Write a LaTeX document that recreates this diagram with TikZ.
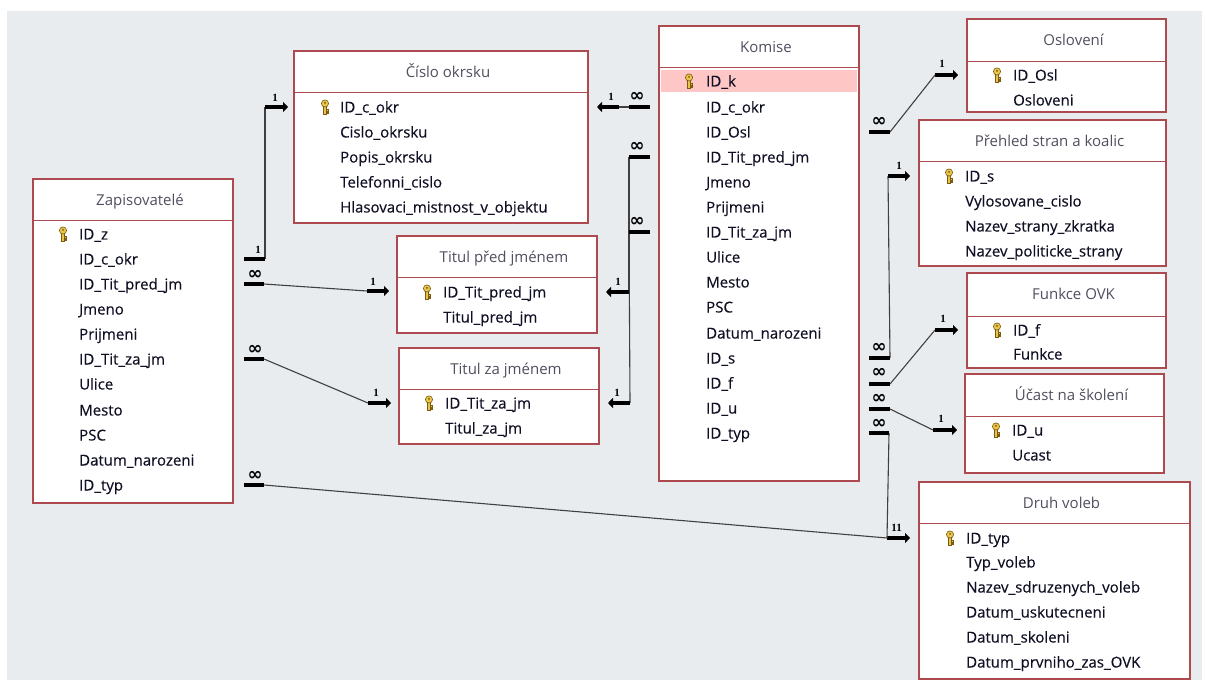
\documentclass[tikz,border=0pt]{standalone}
\usepackage{fontspec}
\setmainfont{Open Sans}
\newfontfamily\fldfont{Open Sans}[BoldFont={Open Sans},BoldFeatures={FakeBold=0.35}]
\newfontfamily\relfont{Liberation Serif}
\newfontfamily\symfont{DejaVu Sans}
\usetikzlibrary{arrows.meta}
\definecolor{bgc}{HTML}{E9ECEF}
\definecolor{boxred}{HTML}{AD4A50}
\definecolor{titc}{HTML}{505060}
\definecolor{fldc}{HTML}{101024}
\definecolor{hilite}{HTML}{FFC6C6}
\definecolor{keygold}{HTML}{E8C44A}
\definecolor{keydark}{HTML}{7A5A10}
\definecolor{linec}{HTML}{404040}
\tikzset{
 tbox/.style={draw=boxred, fill=white, line width=1.3pt, anchor=north west, inner sep=0pt, outer sep=0pt},
 hdr/.style={draw=boxred, line width=1pt},
 ttl/.style={font=\fontsize{15}{17}\selectfont, text=titc, inner sep=0pt, anchor=base},
 fld/.style={font=\fldfont\bfseries\fontsize{15}{17}\selectfont, text=fldc, anchor=base west, inner sep=0pt},
 relbar/.style={line width=3.5pt, black},
 rel/.style={line width=1.1pt, linec},
 relarr/.style={line width=3.5pt, black, -{Triangle[length=5pt,width=10pt]}},
 one/.style={font=\relfont\bfseries\fontsize{11}{11}\selectfont, inner sep=0pt},
 many/.style={font=\symfont\bfseries\fontsize{18}{18}\selectfont, inner sep=0pt},
 keyico/.pic={
   \fill[keygold, draw=keydark, line width=0.6pt] (-1.5,-1) rectangle (1.5,7);
   \fill[keygold, draw=keydark, line width=0.5pt] (1.5,2.6) rectangle (3.6,4);
   \fill[keygold, draw=keydark, line width=0.5pt] (1.5,5.1) rectangle (3.6,6.6);
   \fill[keygold, draw=keydark, line width=0.6pt] (0,-3.5) circle (3.6);
   \fill[keydark] (0,-4.2) circle (1);
 }
}
% #1 name, #2 x1, #3 y1, #4 x2, #5 y2, #6 header line y, #7 title
\newcommand\erbox[7]{%
  \node[tbox, minimum width={#4-#2}, minimum height={#5-#3}] (#1) at (#2,#3) {};
  \draw[hdr] (#2,#6) -- (#4,#6);
  \node[ttl] (#1-t) at ({(#2+#4)/2+7},{(#3+#6)/2+5.5}) {#7};
}
\begin{document}
\begin{tikzpicture}[x=1pt,y=-1pt]
\useasboundingbox (0,0) rectangle (1206,684);
\fill[white] (0,0) rectangle (1206,684);
\fill[bgc] (7,11) rectangle (1202,680);

% ---------- tables ----------
\erbox{zap}{33}{179}{233}{503}{221}{Zapisovatelé}
\erbox{okr}{294}{51}{588}{223}{93}{Číslo okrsku}
\erbox{tpred}{397}{236}{597}{333}{278}{Titul před jménem}
\erbox{tza}{399}{348}{599}{444}{389}{Titul za jménem}
\erbox{kom}{659}{26}{859}{481}{68}{Komise}
\erbox{osl}{967}{19}{1166}{112}{62}{Oslovení}
\erbox{preh}{919}{120}{1166}{266}{162}{Přehled stran a koalic}
\erbox{fun}{967}{273}{1166}{368}{316}{Funkce OVK}
\erbox{uc}{965}{374}{1164}{473}{416}{Účast na školení}
\erbox{druh}{919}{482}{1190}{679}{523}{Druh voleb}

\fill[hilite] (661,70) rectangle (857,92);

% Zapisovatele
\pic at (63,234) {keyico};
\node[fld] (zap1) at (79,239.5) {ID\_z};
\node[fld] (zap2) at (79,264.5) {ID\_c\_okr};
\node[fld] (zap3) at (79,289.5) {ID\_Tit\_pred\_jm};
\node[fld] (zap4) at (79,314.5) {Jmeno};
\node[fld] (zap5) at (79,339.5) {Prijmeni};
\node[fld] (zap6) at (79,364.5) {ID\_Tit\_za\_jm};
\node[fld] (zap7) at (79,389.5) {Ulice};
\node[fld] (zap8) at (79,415.5) {Mesto};
\node[fld] (zap9) at (79,440.5) {PSC};
\node[fld] (zap10) at (79,465.5) {Datum\_narozeni};
\node[fld] (zap11) at (79,490.5) {ID\_typ};

% Cislo okrsku
\pic at (325,107) {keyico};
\node[fld] (okr1) at (340,112.5) {ID\_c\_okr};
\node[fld] (okr2) at (340,137.5) {Cislo\_okrsku};
\node[fld] (okr3) at (340,162.5) {Popis\_okrsku};
\node[fld] (okr4) at (340,187.5) {Telefonni\_cislo};
\node[fld] (okr5) at (340,212.5) {Hlasovaci\_mistnost\_v\_objektu};

% Titul pred jmenem
\pic at (427,292) {keyico};
\node[fld] (tpred1) at (443,297.5) {ID\_Tit\_pred\_jm};
\node[fld] (tpred2) at (443,322.5) {Titul\_pred\_jm};

% Titul za jmenem
\pic at (429,403) {keyico};
\node[fld] (tza1) at (445,408.5) {ID\_Tit\_za\_jm};
\node[fld] (tza2) at (445,433.5) {Titul\_za\_jm};

% Komise
\pic at (689,81) {keyico};
\node[fld] (kom1) at (706,86.5) {ID\_k};
\node[fld] (kom2) at (706,112.5) {ID\_c\_okr};
\node[fld] (kom3) at (706,137.5) {ID\_Osl};
\node[fld] (kom4) at (706,162.5) {ID\_Tit\_pred\_jm};
\node[fld] (kom5) at (706,187.5) {Jmeno};
\node[fld] (kom6) at (706,212.5) {Prijmeni};
\node[fld] (kom7) at (706,237.5) {ID\_Tit\_za\_jm};
\node[fld] (kom8) at (706,262.5) {Ulice};
\node[fld] (kom9) at (706,287.5) {Mesto};
\node[fld] (kom10) at (706,312.5) {PSC};
\node[fld] (kom11) at (706,338.5) {Datum\_narozeni};
\node[fld] (kom12) at (706,363.5) {ID\_s};
\node[fld] (kom13) at (706,388.5) {ID\_f};
\node[fld] (kom14) at (706,413.5) {ID\_u};
\node[fld] (kom15) at (706,438.5) {ID\_typ};

% Osloveni
\pic at (997,75) {keyico};
\node[fld] (osl1) at (1013,80.5) {ID\_Osl};
\node[fld] (osl2) at (1013,105.5) {Osloveni};

% Prehled stran
\pic at (949,176) {keyico};
\node[fld] (preh1) at (965,181.5) {ID\_s};
\node[fld] (preh2) at (965,206.5) {Vylosovane\_cislo};
\node[fld] (preh3) at (965,231.5) {Nazev\_strany\_zkratka};
\node[fld] (preh4) at (965,256.5) {Nazev\_politicke\_strany};

% Funkce OVK
\pic at (997,330) {keyico};
\node[fld] (fun1) at (1013,335.5) {ID\_f};
\node[fld] (fun2) at (1013,359.5) {Funkce};

% Ucast na skoleni
\pic at (996,430) {keyico};
\node[fld] (uc1) at (1012,435.5) {ID\_u};
\node[fld] (uc2) at (1012,460.5) {Ucast};

% Druh voleb
\pic at (950,538) {keyico};
\node[fld] (druh1) at (966,543.5) {ID\_typ};
\node[fld] (druh2) at (966,567.5) {Typ\_voleb};
\node[fld] (druh3) at (966,592.5) {Nazev\_sdruzenych\_voleb};
\node[fld] (druh4) at (966,617.5) {Datum\_uskutecneni};
\node[fld] (druh5) at (966,642.5) {Datum\_skoleni};
\node[fld] (druh6) at (966,667.5) {Datum\_prvniho\_zas\_OVK};

% ---------- connector points ----------
\coordinate (a1) at (244,259); \coordinate (a2) at (265,259);
\coordinate (a3) at (265,107); \coordinate (a4) at (288,107);
\coordinate (b1) at (244,284); \coordinate (b2) at (264,284);
\coordinate (b3) at (367,291); \coordinate (b4) at (389,291);
\coordinate (c1) at (244,359); \coordinate (c2) at (264,359);
\coordinate (c3) at (368,403); \coordinate (c4) at (391,403);
\coordinate (d1) at (244,485); \coordinate (d2) at (264,485);
\coordinate (d3) at (887,538); \coordinate (d4) at (910,538);
\coordinate (e1) at (650,107); \coordinate (e2) at (629,107);
\coordinate (e3) at (619,107); \coordinate (e4) at (597,107);
\coordinate (f1) at (650,157); \coordinate (f2) at (629,157);
\coordinate (f3) at (629,292); \coordinate (f4) at (606,292);
\coordinate (g1) at (650,232); \coordinate (g2) at (629,232);
\coordinate (g3) at (630,403); \coordinate (g4) at (608,403);
\coordinate (h1) at (869,132); \coordinate (h2) at (890,132);
\coordinate (h3) at (935,75);  \coordinate (h4) at (958,75);
\coordinate (i1) at (869,358); \coordinate (i2) at (890,358);
\coordinate (i3) at (888,176); \coordinate (i4) at (910,176);
\coordinate (j1) at (869,384); \coordinate (j2) at (890,384);
\coordinate (j3) at (935,330); \coordinate (j4) at (958,330);
\coordinate (k1) at (869,409); \coordinate (k2) at (890,409);
\coordinate (k3) at (933,430); \coordinate (k4) at (957,430);
\coordinate (l1) at (869,433); \coordinate (l2) at (889,433);
\coordinate (l3) at (887,538);

% ---------- connectors ----------
\draw[rel] (a2) -- (a3); \draw[relbar] (a1) -- (a2); \draw[relarr] (a3) -- (a4);
\draw[rel] (b2) -- (b3); \draw[relbar] (b1) -- (b2); \draw[relarr] (b3) -- (b4);
\draw[rel] (c2) -- (c3); \draw[relbar] (c1) -- (c2); \draw[relarr] (c3) -- (c4);
\draw[rel] (d2) -- (d3); \draw[relbar] (d1) -- (d2); \draw[relarr] (d3) -- (d4);
\draw[rel] (e2) -- (e3); \draw[relbar] (e1) -- (e2); \draw[relarr] (e3) -- (e4);
\draw[rel] (f2) -- (f3); \draw[relbar] (f1) -- (f2); \draw[relarr] (f3) -- (f4);
\draw[rel] (g2) -- (g3); \draw[relbar] (g1) -- (g2); \draw[relarr] (g3) -- (g4);
\draw[rel] (h2) -- (h3); \draw[relbar] (h1) -- (h2); \draw[relarr] (h3) -- (h4);
\draw[rel] (i2) -- (i3); \draw[relbar] (i1) -- (i2); \draw[relarr] (i3) -- (i4);
\draw[rel] (j2) -- (j3); \draw[relbar] (j1) -- (j2); \draw[relarr] (j3) -- (j4);
\draw[rel] (k2) -- (k3); \draw[relbar] (k1) -- (k2); \draw[relarr] (k3) -- (k4);
\draw[rel] (l2) -- (l3); \draw[relbar] (l1) -- (l2);

% ---------- cardinality labels ----------
\node[one] (la1) at (258,250) {1};
\node[one] (la2) at (275,98) {1};
\node[many] (lb1) at (255,275) {∞};
\node[one] (lb2) at (373,282) {1};
\node[many] (lc1) at (255,350) {∞};
\node[one] (lc2) at (376,393) {1};
\node[many] (ld1) at (255,476) {∞};
\node[one] (ld2) at (894,528) {1};
\node[many] (le1) at (637,97) {∞};
\node[one] (le2) at (611,97) {1};
\node[many] (lf1) at (637,147) {∞};
\node[one] (lf2) at (618,282) {1};
\node[many] (lg1) at (637,222) {∞};
\node[one] (lg2) at (617,393) {1};
\node[many] (lh1) at (879,122) {∞};
\node[one] (lh2) at (942,64) {1};
\node[many] (li1) at (879,348) {∞};
\node[one] (li2) at (899,166) {1};
\node[many] (lj1) at (879,373) {∞};
\node[one] (lj2) at (943,319) {1};
\node[many] (lk1) at (879,399) {∞};
\node[one] (lk2) at (941,419) {1};
\node[many] (ll1) at (879,424) {∞};
\node[one] (ll2) at (899,528) {1};
\end{tikzpicture}
\end{document}
